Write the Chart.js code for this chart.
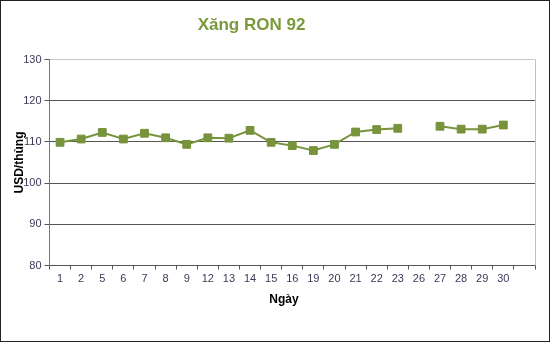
<!DOCTYPE html>
<html>
<head>
<meta charset="utf-8">
<script src="https://cdn.jsdelivr.net/npm/chart.js@4/dist/chart.umd.min.js"></script>
<style>
  html, body { margin: 0; padding: 0; background: #fff; }
  #wrap { width: 550px; height: 342px; position: relative; }
</style>
</head>
<body>
<div id="wrap"><canvas id="fuelChart"></canvas></div>
<script>
// Data
const days = ['1', '2', '5', '6', '7', '8', '9', '12', '13', '14', '15', '16', '19', '20', '21', '22', '23', '26', '27', '28', '29', '30', ''];
const ron92 = [109.9, 110.7, 112.3, 110.7, 112.1, 111.0, 109.4, 111.0, 110.9, 112.8, 109.9, 109.1, 107.9, 109.4, 112.4, 113.0, 113.3, null, 113.8, 113.1, 113.1, 114.1, null];
const yTicks = [80, 90, 100, 110, 120, 130];
const chartTitle = 'Xăng RON 92';
const xTitle = 'Ngày';

const green = '#77933C';
const fontFamily = '"Liberation Sans", Arial, sans-serif';

// Frame, plot right edge and the two titles (they sit off-centre in the original)
const framePlugin = {
    id: 'frame',
    beforeDraw(chart) {
        const c = chart.ctx;
        c.save();
        c.fillStyle = '#fff';
        c.fillRect(0, 0, chart.width, chart.height);
        c.restore();
    },
    afterDraw(chart) {
        const c = chart.ctx;
        const a = chart.chartArea;
        c.save();
        c.strokeStyle = '#c0c0c0';
        c.lineWidth = 1;
        c.beginPath();
        c.moveTo(Math.round(a.right) + 0.5, a.top);
        c.lineTo(Math.round(a.right) + 0.5, a.bottom);
        c.stroke();
        c.strokeStyle = '#222';
        c.strokeRect(0.5, 0.5, chart.width - 1, chart.height - 1);

        c.textAlign = 'center';
        c.textBaseline = 'middle';
        c.fillStyle = '#7a9a3c';
        c.font = 'bold 17px ' + fontFamily;
        c.fillText(chartTitle, 251.5, 25);
        c.fillStyle = '#000';
        c.font = 'bold 12px ' + fontFamily;
        c.fillText(xTitle, 284, 300);
        c.restore();
    }
};

const ctx = document.getElementById('fuelChart').getContext('2d');
const fuelChart = new Chart(ctx, {
    type: 'line',
    data: {
        labels: days,
        datasets: [{
            label: chartTitle,
            data: ron92,
            borderColor: green,
            backgroundColor: green,
            borderWidth: 2,
            pointStyle: 'rect',
            pointRadius: 5.5,
            pointBorderWidth: 1,
            pointBorderColor: green,
            pointBackgroundColor: green,
            spanGaps: false,
            tension: 0
        }]
    },
    options: {
        responsive: true,
        maintainAspectRatio: false,
        animation: false,
        layout: { padding: { top: 59.5, left: 0, right: 15, bottom: 0 } },
        plugins: {
            legend: { display: false },
            tooltip: { enabled: false },
            title: { display: false }
        },
        scales: {
            x: {
                offset: true,
                afterFit(scale) { scale.height = 76.5; },
                grid: {
                    offset: true,
                    drawOnChartArea: false,
                    drawTicks: true,
                    tickLength: 4,
                    tickColor: '#555'
                },
                border: { color: '#555', width: 1 },
                ticks: {
                    color: '#3a3a5a',
                    font: { family: fontFamily, size: 11 },
                    padding: 3,
                    autoSkip: false,
                    maxRotation: 0
                }
            },
            y: {
                min: yTicks[0],
                max: yTicks[yTicks.length - 1],
                afterFit(scale) { scale.width = 49.5; },
                afterBuildTicks(scale) { scale.ticks = yTicks.map(v => ({ value: v })); },
                grid: {
                    color: c => (c.tick && c.tick.value === 130 ? '#c8c8c8' : '#555'),
                    tickColor: '#555',
                    tickLength: 5
                },
                border: { color: '#777', width: 1 },
                ticks: {
                    color: '#3a3a5a',
                    font: { family: fontFamily, size: 11 },
                    padding: 3
                },
                title: {
                    display: true,
                    text: 'USD/thùng',
                    color: '#000',
                    font: { family: fontFamily, size: 12, weight: 'bold' },
                    padding: { top: 12, bottom: 0 }
                }
            }
        }
    },
    plugins: [framePlugin]
});
</script>
</body>
</html>
